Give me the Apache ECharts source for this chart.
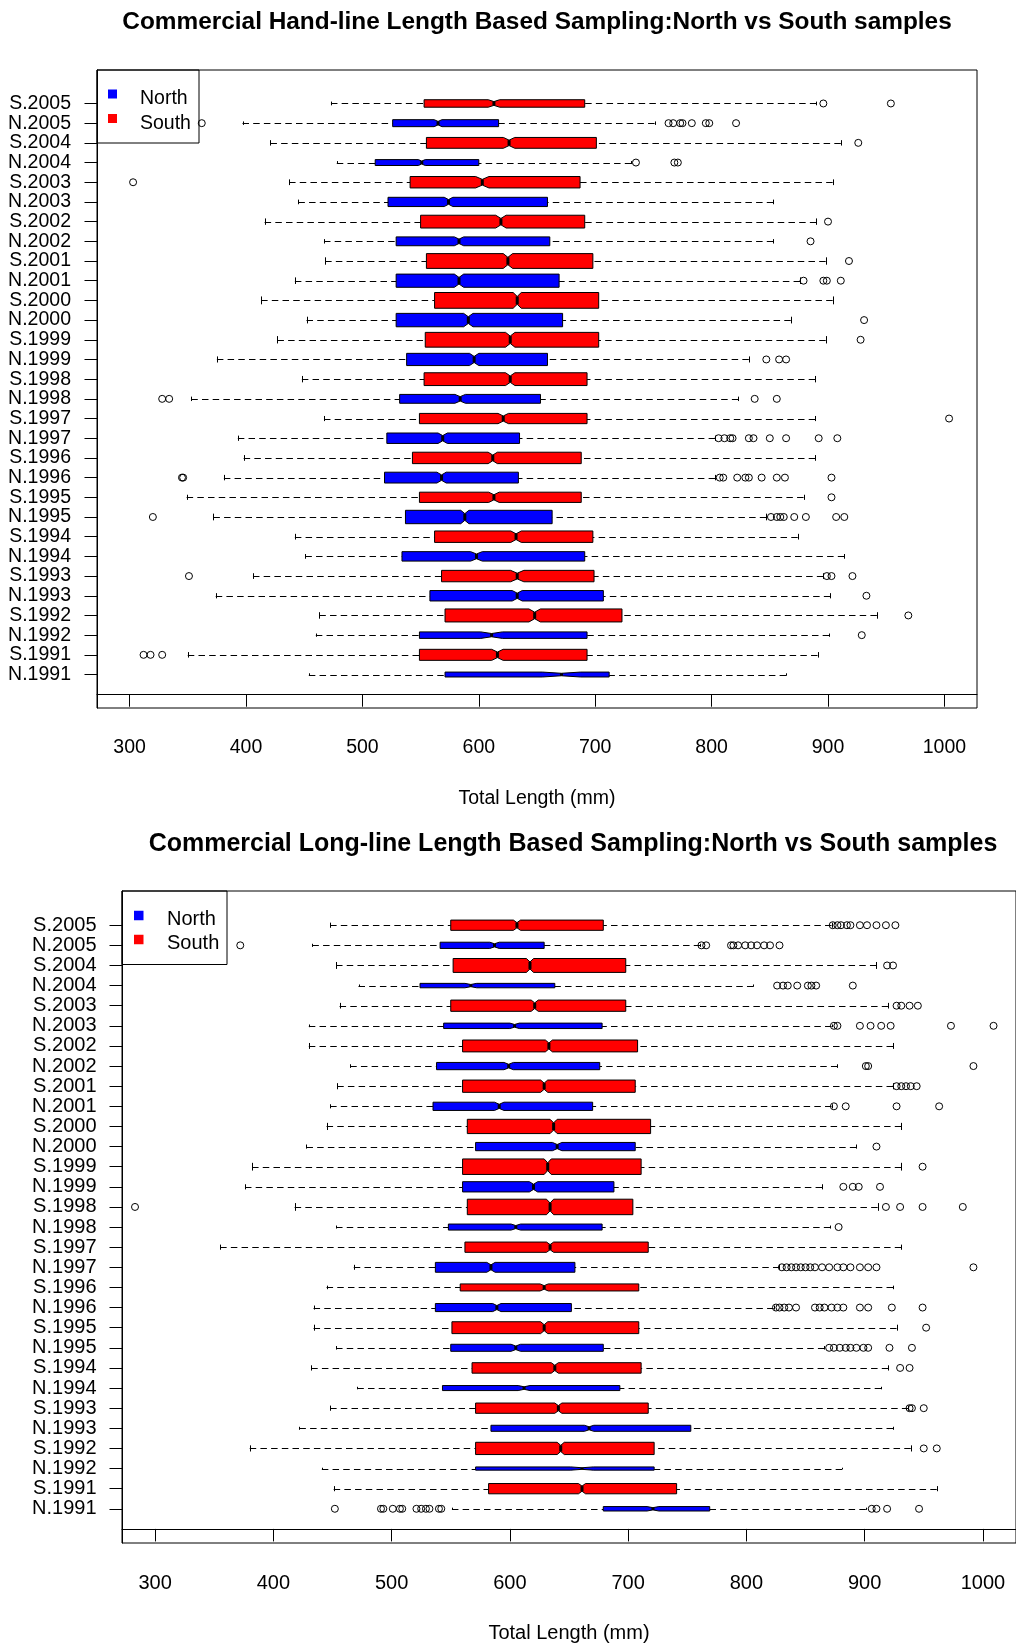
<!DOCTYPE html>
<html>
<head>
<meta charset="utf-8">
<script src="https://cdn.jsdelivr.net/npm/echarts@6/dist/echarts.min.js"></script>
<style>
html,body{margin:0;padding:0;background:#fff}
#c{width:1016px;height:1645px}
</style>
</head>
<body>
<div id="c"></div>
<script>
// ---------- DATA (rows from bottom of each plot to top) ----------
const categories = ['N.1991','S.1991','N.1992','S.1992','N.1993','S.1993','N.1994','S.1994',
  'N.1995','S.1995','N.1996','S.1996','N.1997','S.1997','N.1998','S.1998','N.1999','S.1999',
  'N.2000','S.2000','N.2001','S.2001','N.2002','S.2002','N.2003','S.2003','N.2004','S.2004',
  'N.2005','S.2005'];
const tickValues = [300,400,500,600,700,800,900,1000];
const titleHand = 'Commercial Hand-line Length Based Sampling:North vs South samples';
const titleLong = 'Commercial Long-line Length Based Sampling:North vs South samples';
const axisTitle = 'Total Length (mm)';
const legendNames = ['North','South'];

// Hand-line: lower whisker, Q1, median, Q3, upper whisker, notch half-width, relative box width (sqrt n)
const handLow   = [454,350,460,463,374,406,451,442,372,349,381,398,393,467,353,448,375,427,452,413,442,468,467,416,445,437,478,421,397,473];
const handQ1    = [571,549,549,571,558,568,534,562,537,549,519,543,521,549,532,553,538,554,529,562,529,555,529,550,522,541,511,555,526,553];
const handMed   = [671,616,611,648,633,633,598,632,588,613,568,612,569,621,584,627,596,627,591,633,583,625,583,619,574,603,551,626,565,613];
const handQ3    = [712,693,693,723,707,699,691,698,663,688,634,688,635,693,653,693,659,703,672,703,669,698,661,691,659,687,600,701,617,691];
const handHigh  = [864,891,901,942,902,896,914,874,847,879,803,889,803,889,823,889,832,898,868,904,876,898,853,890,853,904,731,911,751,890];
const handNotch = [16.4,4.9,9.3,4.9,4.3,5.7,5,4.5,3.5,4.5,4,4,4,4.5,4.5,4,4,4,4,3.5,4,4,4,4.5,3.7,5.7,3,4.9,3.4,4.9];
const handWidth = [0.25,0.56,0.33,0.66,0.53,0.58,0.48,0.58,0.68,0.52,0.55,0.58,0.53,0.52,0.45,0.65,0.62,0.75,0.68,0.80,0.67,0.75,0.45,0.65,0.47,0.58,0.30,0.55,0.355,0.38];
const handOutliers = [
  [], [312,318,328], [929], [969], [933], [351,899,903,921], [], [],
  [320,851,856,859,862,871,881,907,914], [903],
  [345,346,807,810,822,829,832,843,856,863,903], [],
  [806,811,816,818,832,836,850,864,892,908], [1004],
  [328,334,837,856], [], [847,858,864], [928], [931], [],
  [879,896,899,911], [918], [885], [900], [], [303],
  [735,768,771], [926], [362,763,767,773,775,783,795,798,821], [896,954]
];

// Long-line
const longLow   = [551,451,441,380,422,448,471,432,453,434,434,445,468,355,453,418,376,382,428,445,448,454,465,430,430,456,472,453,433,448];
const longQ1    = [679,582,571,571,584,571,543,568,550,551,537,558,537,562,548,564,560,560,571,564,535,560,538,560,544,550,524,552,541,550];
const longMed   = [721,661,661,643,667,641,612,638,605,629,589,629,584,634,605,634,620,632,640,637,591,629,599,633,604,621,567,617,587,606];
const longQ3    = [769,741,722,722,753,717,693,711,679,709,652,709,655,717,678,704,688,711,706,719,670,706,676,708,678,698,638,698,629,679];
const longHigh  = [901,961,881,939,924,937,914,920,866,927,823,924,828,931,871,911,864,931,893,931,872,924,877,924,872,920,806,910,761,872];
const longNotch = [5,3,9.5,3,4,3,5,3,4,3,3.5,3.5,3.5,3,4,3,3.5,3,4,3,4,3,4,3,4,3,5,3,4,3];
const longWidth = [0.22,0.51,0.16,0.61,0.30,0.51,0.25,0.52,0.35,0.59,0.40,0.35,0.49,0.51,0.30,0.77,0.51,0.77,0.41,0.71,0.41,0.61,0.36,0.59,0.27,0.56,0.22,0.69,0.31,0.51];
const longOutliers = [
  [452,491,493,501,507,509,521,525,529,532,540,542,906,910,919,946], [], [], [950,961],
  [], [938,940,950], [], [930,938],
  [870,874,879,884,888,893,899,903,921,940], [952],
  [825,828,832,836,842,858,862,866,872,877,882,896,903,923,949], [],
  [830,834,838,842,846,850,854,858,864,870,877,882,888,896,903,910,992], [],
  [878], [283,918,930,949,983], [882,890,895,913], [949], [910], [],
  [874,884,927,963], [927,931,935,939,944], [901,903,992], [],
  [874,877,896,905,914,922,973,1009], [927,931,938,945],
  [826,831,835,843,852,855,859,890], [919,924],
  [372,762,766,787,789,793,799,804,809,815,820,828],
  [873,877,880,885,888,896,902,910,918,926]
];

// ---------- BUILD ----------
const FONT = '"Liberation Sans", Arial, Helvetica, sans-serif';
const BLUE = '#0000FF', RED = '#FF0000';
const X_MIN = 272, X_MAX = 1028;
const yTicksOdd = categories.map((c, i) => i + 1).filter(v => v % 2 === 1);
const yTicksEven = categories.map((c, i) => i + 1).filter(v => v % 2 === 0);

function boxData(low, q1, med, q3, high, notch, width, prefix) {
  const out = [];
  categories.forEach((c, i) => {
    if (c.charAt(0) === prefix) out.push([i + 1, low[i], q1[i], med[i], q3[i], high[i], notch[i], width[i]]);
  });
  return out;
}
function outlierData(outs) {
  const d = [];
  outs.forEach((arr, i) => arr.forEach(v => d.push([v, i + 1])));
  return d;
}

function renderBox(params, api) {
  const y = api.value(0);
  const lo = api.value(1), q1 = api.value(2), med = api.value(3), q3 = api.value(4), hi = api.value(5);
  const nh = api.value(6), bw = api.value(7);
  const X = v => api.coord([v, y])[0];
  const cy = api.coord([med, y])[1];
  const wy = Math.round(cy) + 0.5;           // crisp whisker line
  const h = api.size([0, bw])[1] / 2;
  const xlo = X(lo), xq1 = X(q1), xmed = X(med), xq3 = X(q3), xhi = X(hi);
  const xnl = X(med - nh), xnu = X(med + nh);
  const sl = Math.round(xlo) + 0.5, sh = Math.round(xhi) + 0.5;
  const fill = api.visual('color');
  const dash = [6.5, 4.2];
  return {
    type: 'group',
    children: [
      { type: 'line', shape: { x1: xlo, y1: wy, x2: xq1, y2: wy }, style: { stroke: '#000', lineWidth: 1, lineDash: dash } },
      { type: 'line', shape: { x1: xhi, y1: wy, x2: xq3, y2: wy }, style: { stroke: '#000', lineWidth: 1, lineDash: dash } },
      { type: 'line', shape: { x1: sl, y1: cy - h * 0.5, x2: sl, y2: cy + h * 0.5 }, style: { stroke: '#000', lineWidth: 1 } },
      { type: 'line', shape: { x1: sh, y1: cy - h * 0.5, x2: sh, y2: cy + h * 0.5 }, style: { stroke: '#000', lineWidth: 1 } },
      { type: 'polygon', shape: { points: [
          [xq1, cy - h], [xnl, cy - h], [xmed, cy - h * 0.5], [xnu, cy - h], [xq3, cy - h],
          [xq3, cy + h], [xnu, cy + h], [xmed, cy + h * 0.5], [xnl, cy + h], [xq1, cy + h]
        ] }, style: { fill: fill, stroke: '#000', lineWidth: 1 } },
      { type: 'line', shape: { x1: xmed, y1: cy - h * 0.5, x2: xmed, y2: cy + h * 0.5 }, style: { stroke: '#000', lineWidth: 3 } }
    ]
  };
}

function xAxisCfg(gridIndex, fontSize, margin, gap) {
  return {
    gridIndex: gridIndex, type: 'value', min: X_MIN, max: X_MAX,
    axisLine: { show: true, lineStyle: { color: '#000', width: 1 } },
    splitLine: { show: false },
    axisTick: { show: true, customValues: tickValues, length: 12.5, lineStyle: { color: '#000', width: 1 } },
    axisLabel: { show: true, customValues: tickValues, fontSize: fontSize, color: '#000', fontFamily: FONT, margin: margin,
      showMinLabel: true, showMaxLabel: true, formatter: v => String(v) },
    name: axisTitle, nameLocation: 'middle', nameGap: gap,
    nameTextStyle: { fontSize: fontSize, color: '#000', fontFamily: FONT }
  };
}
// Two stacked y axes per plot (odd / even rows) so that no row label is dropped by overlap checks.
function yAxisCfg(gridIndex, fontSize, margin, ticks, showLine) {
  return {
    gridIndex: gridIndex, type: 'value', min: -0.7, max: 31.7, position: 'left', offset: 0,
    axisLine: { show: showLine, lineStyle: { color: '#000', width: 1 } },
    splitLine: { show: false },
    axisTick: { show: true, customValues: ticks, length: 12.5, lineStyle: { color: '#000', width: 1 } },
    axisLabel: { show: true, customValues: ticks, fontSize: fontSize, color: '#000', fontFamily: FONT, margin: margin,
      showMinLabel: true, showMaxLabel: true,
      formatter: v => categories[Math.round(v) - 1] || '' }
  };
}
function boxSeries(name, color, xi, data) {
  return { name: name, type: 'custom', xAxisIndex: xi, yAxisIndex: xi, renderItem: renderBox,
    itemStyle: { color: color }, encode: { x: [1, 2, 3, 4, 5], y: 0 }, data: data, silent: true, animation: false };
}
function outSeries(xi, data) {
  return { name: 'outliers', type: 'scatter', xAxisIndex: xi, yAxisIndex: xi, symbol: 'circle', symbolSize: 7,
    itemStyle: { color: 'rgba(0,0,0,0)', borderColor: '#000', borderWidth: 1, opacity: 1 },
    data: data, silent: true, animation: false, z: 3 };
}
function legendGraphic(x, y, w, h, sq, textX, fontSize, rows, textDy) {
  const els = [{ type: 'rect', shape: { x: x, y: y, width: w, height: h }, style: { fill: 'none', stroke: '#000', lineWidth: 1 }, z: 50 }];
  const colors = [BLUE, RED];
  legendNames.forEach((n, i) => {
    els.push({ type: 'rect', shape: { x: sq[0], y: rows[i] - sq[1] / 2 - 2, width: sq[1], height: sq[1] }, style: { fill: colors[i] }, z: 50 });
    els.push({ type: 'text', x: textX, y: rows[i] + textDy, z: 50,
      style: { text: n, fontSize: fontSize, fontFamily: FONT, fill: '#000', align: 'left', verticalAlign: 'middle', textAlign: 'left', textVerticalAlign: 'middle' } });
  });
  return els;
}
function titleGraphic(text, x, y, size) {
  return { type: 'text', x: x, y: y, z: 50,
    style: { text: text, fontSize: size, fontWeight: 'bold', fontFamily: FONT, fill: '#000',
      align: 'center', verticalAlign: 'middle', textAlign: 'center', textVerticalAlign: 'middle' } };
}

const chart = echarts.init(document.getElementById('c'), null, { renderer: 'canvas', width: 1016, height: 1645 });
const option = {
  animation: false,
  backgroundColor: '#fff',
  grid: [
    { left: 97, top: 70, width: 880, height: 638, show: true, borderColor: '#000', borderWidth: 1, backgroundColor: 'transparent' },
    { left: 122, top: 891, width: 904, height: 652, show: true, borderColor: '#000', borderWidth: 1, backgroundColor: 'transparent' }
  ],
  xAxis: [xAxisCfg(0, 19.5, 30, 81), xAxisCfg(1, 20, 30, 80)],
  yAxis: [
    yAxisCfg(0, 19.5, 26, yTicksOdd, true),
    yAxisCfg(1, 20, 25.5, yTicksOdd, true),
    yAxisCfg(0, 19.5, 26, yTicksEven, false),
    yAxisCfg(1, 20, 25.5, yTicksEven, false)
  ],
  series: [
    boxSeries('North', BLUE, 0, boxData(handLow, handQ1, handMed, handQ3, handHigh, handNotch, handWidth, 'N')),
    boxSeries('South', RED, 0, boxData(handLow, handQ1, handMed, handQ3, handHigh, handNotch, handWidth, 'S')),
    outSeries(0, outlierData(handOutliers)),
    boxSeries('North', BLUE, 1, boxData(longLow, longQ1, longMed, longQ3, longHigh, longNotch, longWidth, 'N')),
    boxSeries('South', RED, 1, boxData(longLow, longQ1, longMed, longQ3, longHigh, longNotch, longWidth, 'S')),
    outSeries(1, outlierData(longOutliers))
  ],
  graphic: [
    titleGraphic(titleHand, 537, 22.5, 24.4),
    titleGraphic(titleLong, 573, 844, 25)
  ].concat(
    legendGraphic(97, 70, 102, 73, [108, 9], 140, 19.5, [96, 120.5], 3),
    legendGraphic(122, 891, 105, 73.5, [134, 9.5], 167, 20, [917.5, 941.5], 1.5)
  )
};
chart.setOption(option);
</script>
</body>
</html>
